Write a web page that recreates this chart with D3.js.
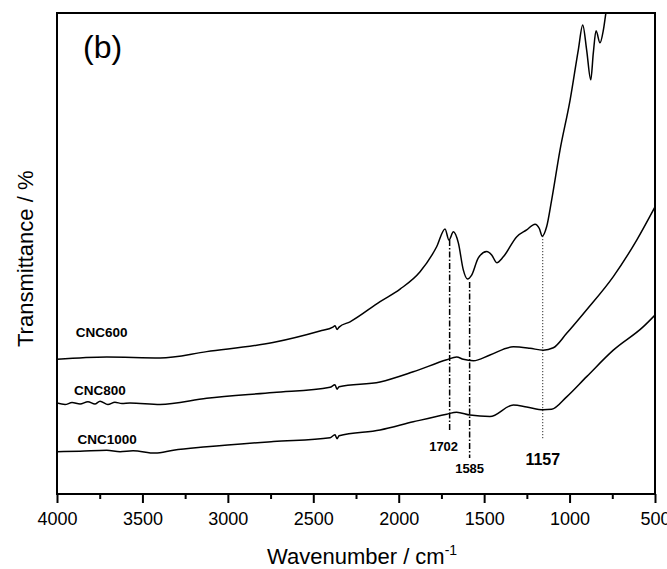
<!DOCTYPE html>
<html lang="en">
<head>
  <meta charset="UTF-8">
  <title>FTIR (b)</title>
  <style>
    body { margin: 0; background: #fff; }
    text { font-family: "Liberation Sans", Arial, sans-serif; fill: #000; }
  </style>
</head>
<body>
<script src="https://d3js.org/d3.v7.min.js"></script>
<script>
  // spectra (wavenumber / cm-1, transmittance in arbitrary %)
  var wn600 = [4000, 3709, 3397, 3124, 2736, 2461, 2385, 2373, 2361, 2349, 2285, 2109, 1992, 1875, 1778, 1729, 1706, 1680, 1651, 1622, 1598, 1573, 1534, 1485, 1456, 1426, 1388, 1309, 1251, 1202, 1177, 1160, 1134, 1105, 1056, 997, 949, 923, 900, 876, 861, 845, 822, 802, 787, 752, 705];
  var t600 = [28.0, 28.5, 28.3, 29.6, 31.5, 33.9, 34.7, 35.0, 34.2, 34.7, 35.8, 40.0, 42.6, 46.2, 51.4, 55.1, 52.8, 54.5, 52.2, 46.6, 44.7, 45.5, 49.1, 50.4, 49.7, 48.1, 49.3, 53.5, 54.9, 56.1, 55.2, 53.6, 55.6, 61.1, 71.5, 81.9, 92.3, 97.5, 92.3, 86.1, 91.7, 96.3, 93.8, 96.5, 100.1, 106.9, 115];

  var wn800 = [4000, 3953, 3912, 3865, 3819, 3778, 3748, 3702, 3661, 3620, 3573, 3397, 3124, 2734, 2402, 2373, 2361, 2349, 2109, 1915, 1719, 1661, 1622, 1563, 1466, 1329, 1232, 1154, 1095, 1017, 900, 744, 607, 500];
  var t800 = [18.9, 18.6, 19.0, 18.7, 19.2, 18.7, 19.3, 18.6, 19.1, 18.8, 18.9, 18.6, 19.9, 21.1, 22.2, 22.7, 21.8, 22.3, 23.3, 25.4, 27.9, 28.5, 28.0, 27.7, 28.9, 30.6, 30.3, 29.9, 30.4, 33.4, 38.3, 45.2, 52.8, 59.7];

  var wn1000 = [4000, 3865, 3709, 3631, 3555, 3426, 3319, 3124, 2734, 2402, 2373, 2361, 2349, 2109, 1915, 1719, 1661, 1583, 1466, 1329, 1251, 1154, 1105, 1017, 900, 744, 568, 500];
  var t1000 = [8.8, 8.9, 9.1, 8.8, 9.0, 8.5, 9.1, 9.8, 10.9, 11.7, 12.3, 11.5, 12.1, 13.3, 15.0, 16.6, 17.0, 16.4, 16.1, 18.5, 18.1, 17.5, 17.6, 20.2, 24.4, 29.9, 34.8, 37.2];

  var seriesNames = ["CNC600", "CNC800", "CNC1000"];
  var labelWn = [3890, 3900, 3880];
  var labelT = [32.7, 20.6, 10.4];

  var peakWn = [1702, 1585, 1157];
  var peakTop = [52.8, 44.1, 53.6];
  var peakBottom = [13.3, 7.5, 11.2];
  var peakLabelT = [8.9, 4.4, 6.0];

  var majorTicks = [4000, 3500, 3000, 2500, 2000, 1500, 1000, 500];
  var minorTicks = [3750, 3250, 2750, 2250, 1750, 1250, 750];

  var width = 667, height = 569;
  var margin = {left: 57, right: 12, top: 13, bottom: 75};

  var svg = d3.select("body").append("svg")
      .attr("width", width)
      .attr("height", height);

  var x = d3.scaleLinear().domain([4000, 500]).range([margin.left, width - margin.right]);
  var y = d3.scaleLinear().domain([0, 100]).range([height - margin.bottom, margin.top]);

  svg.append("clipPath").attr("id", "plot")
    .append("rect")
      .attr("x", x(4000)).attr("y", y(100))
      .attr("width", x(500) - x(4000)).attr("height", y(0) - y(100));

  var line = d3.line()
      .x(function(d) { return x(d[0]); })
      .y(function(d) { return y(d[1]); })
      .curve(d3.curveMonotoneX);

  var series = [d3.zip(wn600, t600), d3.zip(wn800, t800), d3.zip(wn1000, t1000)];

  svg.append("g").attr("clip-path", "url(#plot)")
    .selectAll("path.spec")
    .data(series)
    .join("path")
      .attr("class", "spec")
      .attr("d", line)
      .attr("fill", "none")
      .attr("stroke", "#000")
      .attr("stroke-width", 1.5)
      .attr("stroke-linejoin", "round");

  // marker lines
  svg.selectAll("line.peak")
    .data(peakWn)
    .join("line")
      .attr("class", "peak")
      .attr("x1", function(d) { return x(d); })
      .attr("x2", function(d) { return x(d); })
      .attr("y1", function(d, i) { return y(peakTop[i]); })
      .attr("y2", function(d, i) { return y(peakBottom[i]); })
      .attr("stroke", "#000")
      .attr("stroke-width", function(d, i) { return i < 2 ? 1.5 : 1; })
      .attr("stroke-dasharray", function(d, i) { return i < 2 ? "6,2,1.5,2" : "1,2"; });

  svg.selectAll("text.peak")
    .data(peakWn)
    .join("text")
      .attr("class", "peak")
      .attr("x", function(d, i) { return x(d) - (i === 0 ? 6 : 0); })
      .attr("y", function(d, i) { return y(peakLabelT[i]); })
      .attr("text-anchor", "middle")
      .attr("font-weight", "bold")
      .attr("font-size", function(d, i) { return i < 2 ? "13px" : "16px"; })
      .text(function(d) { return d; });

  svg.selectAll("text.name")
    .data(seriesNames)
    .join("text")
      .attr("class", "name")
      .attr("x", function(d, i) { return x(labelWn[i]); })
      .attr("y", function(d, i) { return y(labelT[i]); })
      .attr("font-weight", "bold")
      .attr("font-size", "13.5px")
      .text(function(d) { return d; });

  // x axis
  var axisY = y(0);
  var gMajor = svg.append("g")
      .attr("transform", "translate(0," + axisY + ")")
      .call(d3.axisBottom(x).tickValues(majorTicks).tickSize(9).tickPadding(9).tickFormat(d3.format("d")));
  gMajor.select(".domain").remove();
  gMajor.selectAll(".tick line").attr("stroke", "#000").attr("stroke-width", 2);
  gMajor.selectAll(".tick text")
      .style("font-family", "'Liberation Sans', Arial, sans-serif")
      .style("font-size", "18px")
      .attr("fill", "#000");

  var gMinor = svg.append("g")
      .attr("transform", "translate(0," + axisY + ")")
      .call(d3.axisBottom(x).tickValues(minorTicks).tickSize(5).tickFormat(""));
  gMinor.select(".domain").remove();
  gMinor.selectAll(".tick line").attr("stroke", "#000").attr("stroke-width", 2);

  // frame
  svg.append("rect")
      .attr("x", x(4000)).attr("y", y(100))
      .attr("width", x(500) - x(4000)).attr("height", y(0) - y(100))
      .attr("fill", "none")
      .attr("stroke", "#000")
      .attr("stroke-width", 2);

  // titles
  var xt = svg.append("text")
      .attr("x", 267)
      .attr("y", 564)
      .attr("font-size", "22px");
  xt.append("tspan").text("Wavenumber / cm");
  xt.append("tspan").attr("dy", "-9").attr("font-size", "14px").text("-1");

  svg.append("text")
      .attr("transform", "translate(33,347) rotate(-90)")
      .attr("font-size", "22px")
      .text("Transmittance / %");

  svg.append("text")
      .attr("x", 83)
      .attr("y", 58)
      .attr("font-size", "32px")
      .text("(b)");
</script>
</body>
</html>
